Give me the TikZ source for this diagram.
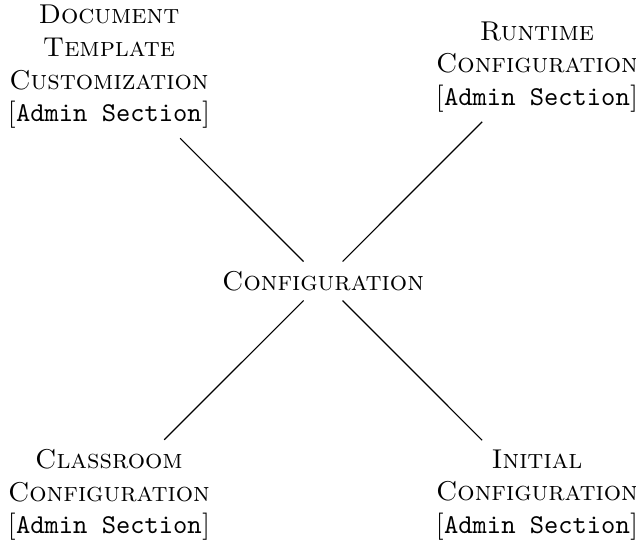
\documentclass[tikz,border=0pt]{standalone}
\begin{document}
\begin{tikzpicture}[x=1pt,y=1pt,
  hub/.style={font=\scshape},
  leaf/.style={align=center, font=\scshape},
  link/.style={draw=black, line width=0.4pt}]
\useasboundingbox (0,0) rectangle (233.8,-198.5);
% central concept
\node[hub] (conf) at (118.75,-103.3) {Configuration};
% four surrounding settings areas
\node[leaf] (doc) at (40.05,-24.6)
  {Document\\Template\\Customization\\{[}\texttt{\upshape Admin Section}{]}};
\node[leaf] (run) at (197.4,-24.6)
  {Runtime\\Configuration\\{[}\texttt{\upshape Admin Section}{]}};
\node[leaf] (cls) at (40.05,-182)
  {Classroom\\Configuration\\{[}\texttt{\upshape Admin Section}{]}};
\node[leaf] (ini) at (197.4,-182)
  {Initial\\Configuration\\{[}\texttt{\upshape Admin Section}{]}};
% connectors
\draw[link] (conf) -- (doc);
\draw[link] (conf) -- (run);
\draw[link] (conf) -- (cls);
\draw[link] (conf) -- (ini);
\end{tikzpicture}
\end{document}
